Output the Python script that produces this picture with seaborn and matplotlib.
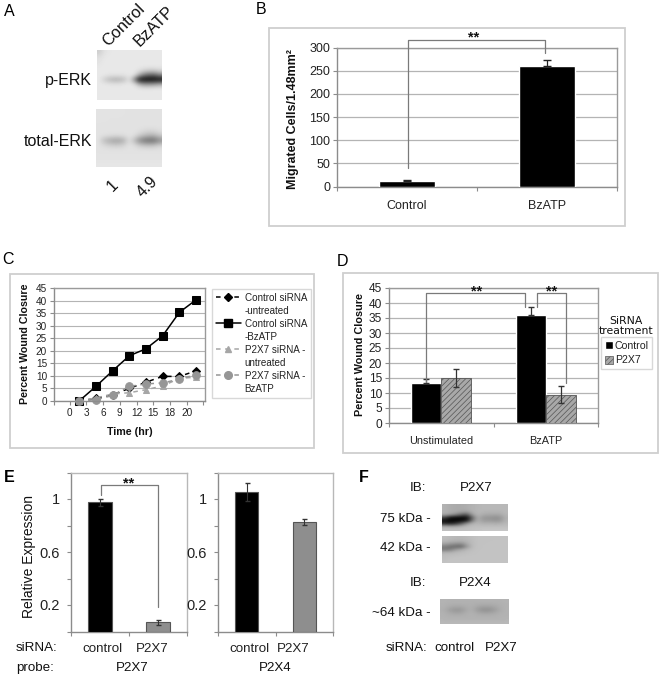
import numpy as np
import pandas as pd
import matplotlib
matplotlib.use("Agg")
import matplotlib.pyplot as plt
import seaborn as sns
from matplotlib.patches import Patch, Rectangle
from matplotlib.lines import Line2D

W, H = 661, 678

# panel B
b_cats = ["Control", "BzATP"]
b_vals = [11.5, 259]
b_errs = [2, 13.5]

# panel C
c_time = [1.7, 4.7, 7.7, 10.7, 13.7, 16.7, 19.7, 22.7]
c_ctrl_untreated = [0, 1, 2.5, 5, 7.5, 9.8, 9.8, 12]
c_ctrl_bzatp = [0, 5.8, 12, 18, 20.8, 26, 35.3, 40.3]
c_p2x7_untreated = [0, 1.2, 2.8, 3.3, 4.5, 6, 9, 9.5]
c_p2x7_bzatp = [0, 0.5, 2.2, 5.8, 6.8, 7.2, 8.7, 10.5]
c_tick_pos = [-2.82, 0, 3, 6, 9, 12, 15, 18, 21, 24]
c_tick_labels = ["", "0", "3", "6", "9", "12", "15", "18", "20", ""]

# panel D
d_cats = ["Unstimulated", "BzATP"]
d_control = [13.3, 36]
d_p2x7 = [15, 9.5]
d_control_err = [1.5, 2.6]
d_p2x7_err = [3, 2.7]

# panel E
e_cats = ["control", "P2X7"]
e1_vals = [0.975, 0.068]
e1_errs = [0.025, 0.02]
e2_vals = [1.053, 0.826]
e2_errs = [0.067, 0.02]

# blots, grey levels
blot_a1 = [
    [205, 226, 230, 232, 232, 232, 232, 232, 232, 232, 232, 232, 232],
    [222, 230, 232, 232, 232, 232, 232, 232, 232, 232, 232, 232, 232],
    [226, 232, 232, 232, 232, 232, 232, 232, 232, 232, 232, 232, 232],
    [230, 232, 232, 232, 232, 232, 232, 232, 232, 232, 232, 232, 232],
    [232, 232, 232, 232, 232, 232, 232, 232, 225, 212, 205, 205, 215],
    [232, 232, 228, 228, 228, 228, 232, 230, 170, 120, 100, 100, 130],
    [232, 205, 185, 175, 178, 192, 228, 130, 12, 6, 5, 6, 12],
    [232, 232, 230, 228, 228, 232, 232, 228, 175, 150, 150, 155, 170],
    [232, 232, 232, 232, 232, 232, 232, 232, 232, 230, 230, 232, 232],
    [232, 232, 232, 232, 232, 232, 232, 232, 232, 232, 232, 232, 232],
    [232, 232, 232, 232, 232, 232, 232, 232, 232, 232, 232, 232, 232],
]
blot_a2 = [
    [228, 228, 228, 228, 228, 226, 226, 226, 226, 226, 226, 226, 226],
    [228, 228, 226, 226, 226, 226, 226, 226, 226, 226, 226, 226, 226],
    [226, 226, 226, 226, 226, 226, 226, 226, 226, 226, 226, 226, 226],
    [226, 226, 226, 226, 226, 226, 226, 226, 226, 226, 226, 226, 226],
    [226, 226, 226, 226, 226, 226, 226, 226, 224, 218, 214, 216, 222],
    [226, 224, 222, 220, 220, 222, 226, 224, 205, 190, 180, 180, 200],
    [226, 190, 172, 160, 160, 175, 222, 190, 140, 115, 105, 108, 140],
    [226, 218, 210, 205, 205, 212, 226, 222, 205, 196, 192, 196, 210],
    [226, 226, 226, 226, 226, 226, 226, 226, 226, 226, 226, 226, 226],
    [226, 226, 226, 226, 226, 226, 226, 226, 226, 226, 226, 226, 226],
    [228, 228, 228, 228, 228, 228, 228, 228, 228, 228, 228, 228, 228],
    [230, 230, 230, 230, 230, 230, 230, 230, 230, 230, 230, 230, 230],
]
blot_f1 = [
    [178, 172, 170, 170, 172, 178, 182, 184, 184, 184, 184, 184],
    [178, 172, 170, 170, 174, 180, 182, 184, 184, 184, 184, 184],
    [178, 172, 170, 165, 160, 176, 184, 182, 180, 180, 180, 184],
    [172, 160, 140, 105, 85, 160, 182, 172, 168, 168, 168, 182],
    [70, 15, 8, 8, 10, 100, 178, 150, 150, 145, 145, 176],
    [15, 5, 5, 8, 20, 120, 178, 155, 155, 150, 150, 178],
    [45, 30, 50, 90, 150, 178, 184, 176, 178, 176, 176, 184],
    [176, 170, 170, 178, 186, 190, 190, 190, 190, 190, 190, 190],
    [192, 192, 192, 192, 192, 194, 196, 198, 198, 198, 198, 198],
]
blot_f2 = [
    [190, 186, 182, 182, 186, 190, 194, 194, 194, 194, 194, 194],
    [186, 182, 180, 180, 182, 188, 194, 194, 194, 194, 194, 194],
    [168, 156, 150, 145, 172, 188, 194, 194, 194, 196, 196, 196],
    [125, 112, 105, 100, 150, 188, 194, 194, 196, 196, 196, 196],
    [120, 125, 155, 170, 185, 190, 194, 194, 196, 196, 196, 196],
    [180, 180, 186, 188, 190, 194, 194, 196, 196, 196, 196, 196],
    [188, 190, 190, 192, 194, 194, 194, 196, 196, 196, 196, 196],
    [190, 194, 196, 196, 196, 196, 196, 196, 196, 196, 196, 196],
    [194, 196, 196, 196, 196, 196, 196, 196, 196, 196, 196, 196],
]
blot_f3 = [
    [180, 178, 178, 178, 178, 178, 178, 178, 178, 178, 178, 180],
    [178, 176, 176, 176, 176, 176, 174, 174, 174, 174, 176, 178],
    [178, 172, 166, 166, 172, 176, 166, 160, 160, 166, 174, 178],
    [176, 162, 150, 150, 166, 176, 156, 144, 144, 156, 172, 178],
    [178, 172, 164, 164, 174, 178, 170, 164, 164, 170, 176, 178],
    [178, 176, 176, 176, 176, 178, 176, 176, 176, 176, 178, 178],
    [180, 178, 178, 178, 178, 178, 178, 178, 178, 178, 178, 180],
    [184, 184, 184, 184, 184, 184, 184, 184, 184, 184, 184, 184],
]

FRAME = "#cfcfcf"
GRID = "#b4b4b4"
AXIS = "#8c8c8c"
BRACKET = "#7a7a7a"

sns.set_theme(style="white")
plt.rcParams["font.family"] = ["Liberation Sans", "DejaVu Sans"]
plt.rcParams["hatch.linewidth"] = 0.5

fig = plt.figure(figsize=(W / 100, H / 100), dpi=100)


def px_axes(x0, y0, x1, y1):
    return fig.add_axes([x0 / W, 1 - y1 / H, (x1 - x0) / W, (y1 - y0) / H])


def style_axes(ax, size, top="#9a9a9a"):
    for s in ["left", "bottom"]:
        ax.spines[s].set_color(AXIS)
        ax.spines[s].set_linewidth(1)
    for s in ["top", "right"]:
        ax.spines[s].set_color(top)
        ax.spines[s].set_linewidth(1)
    ax.tick_params(axis="both", which="both", left=True, bottom=True, color=AXIS,
                   length=3, width=0.8, labelsize=size, labelcolor="#222222", pad=2)
    ax.set_xlabel("")
    ax.set_ylabel("")


def category_ticks(ax, n, pad):
    ax.set_xlim(-0.5, n - 0.5)
    ax.set_xticks(np.arange(-0.5, n), minor=True)
    ax.tick_params(axis="x", which="major", length=0, pad=pad)


def blot(grid, x0, y0, x1, y1):
    ax = px_axes(x0, y0, x1, y1)
    ax.imshow(np.array(grid), cmap="gray", vmin=0, vmax=255, aspect="auto", interpolation="bicubic")
    ax.axis("off")


# overlay in pixel coordinates for the loose labels, frames and brackets
ov = fig.add_axes([0, 0, 1, 1], zorder=10)
ov.set_xlim(0, W)
ov.set_ylim(H, 0)
ov.axis("off")
ov.patch.set_alpha(0)


def label(x, y, s, size=9.6, ha="center", **kw):
    ov.text(x, y, s, fontsize=size, ha=ha, va="center", color=kw.pop("color", "#111111"), **kw)


def bracket(xs, ys):
    ov.add_line(Line2D(xs, ys, color=BRACKET, lw=0.9))


def frame(x0, y0, x1, y1):
    ov.add_patch(Rectangle((x0, y0), x1 - x0, y1 - y0, fill=False, ec=FRAME, lw=1.3))


for x, y, s, w in [(9, 11, "A", "normal"), (261, 9, "B", "normal"), (8, 260, "C", "normal"),
                   (343, 261, "D", "normal"), (9, 477, "E", "bold"), (364, 478, "F", "bold")]:
    label(x, y, s, size=11.5, weight=w, color="black")

# panel A
blot(blot_a1, 97, 50, 162, 100)
blot(blot_a2, 96, 109, 162, 167)
ov.text(110, 49, "Control", fontsize=11.8, rotation=45, ha="left", va="bottom", rotation_mode="anchor", color="#111111")
ov.text(142, 49, "BzATP", fontsize=11.8, rotation=45, ha="left", va="bottom", rotation_mode="anchor", color="#111111")
label(92, 80, "p-ERK", size=11.5, ha="right")
label(92, 141, "total-ERK", size=11.5, ha="right")
label(113, 186, "1", size=11.5, rotation=45)
label(147, 187, "4.9", size=11.5, rotation=45)

# panel B
frame(269, 28, 625, 226)
ax = px_axes(337, 47.5, 617, 186.5)
sns.barplot(x=b_cats, y=b_vals, color="black", saturation=1, width=0.405, ax=ax, zorder=3)
ax.errorbar(range(2), b_vals, yerr=[[0, 0], b_errs], fmt="none", ecolor="#222222", elinewidth=0.9, capsize=3, zorder=4)
ax.set_ylim(0, 300)
ax.set_yticks(range(0, 301, 50))
ax.yaxis.grid(True, color=GRID, lw=0.9)
ax.set_axisbelow(True)
style_axes(ax, 9)
category_ticks(ax, 2, 10)
label(293, 119, "Migrated Cells/1.48mm²", size=9, weight="bold", rotation=90)
bracket([408, 408, 545, 545], [168, 40, 40, 53])
label(474, 37, "**", size=10.5, weight="bold")

# panel C
frame(10, 274, 314, 448)
ax = px_axes(54, 288, 205, 401)
series = [
    (c_ctrl_untreated, "Control siRNA", "-untreated", "black", "D", (0, (3, 3)), 4.5),
    (c_ctrl_bzatp, "Control siRNA", "-BzATP", "black", "s", "-", 5.5),
    (c_p2x7_untreated, "P2X7 siRNA -", "untreated", "#a6a6a6", "^", (0, (3, 3)), 5),
    (c_p2x7_bzatp, "P2X7 siRNA -", "BzATP", "#969696", "o", (0, (3, 3)), 5.5),
]
leg_handles, leg_labels = [], []
for vals, line1, line2, col, mk, ls, ms in series:
    sns.lineplot(x=c_time, y=vals, color=col, marker=mk, linestyle=ls, markersize=ms, lw=1.1,
                 markeredgecolor=col, errorbar=None, ax=ax, clip_on=False)
    leg_handles += [Line2D([], [], color=col, marker=mk, linestyle=ls, markersize=ms, lw=1.1),
                    Line2D([], [], linestyle="none")]
    leg_labels += [line1, line2]
ax.set_xlim(-2.82, 24.3)
ax.set_ylim(0, 45)
ax.set_yticks(range(0, 46, 5))
ax.set_xticks(c_tick_pos)
ax.set_xticklabels(c_tick_labels)
ax.yaxis.grid(True, color=GRID, lw=0.8)
ax.set_axisbelow(True)
style_axes(ax, 7.2)
leg = ax.legend(leg_handles, leg_labels, loc="upper left", bbox_to_anchor=(212 / W, 1 - 289 / H),
                bbox_transform=fig.transFigure, fontsize=7.1, frameon=True, fancybox=False, edgecolor=FRAME,
                borderaxespad=0, borderpad=0.4, handlelength=2.5, handletextpad=0.4, labelspacing=0.3,
                labelcolor="#222222")
leg.get_frame().set_linewidth(1)
label(25, 344, "Percent Wound Closure", size=7.7, weight="bold", rotation=90)
label(130, 432, "Time (hr)", size=7.7, weight="bold")

# panel D
frame(343, 273, 658, 453)
ax = px_axes(389, 288, 598, 423)
d_df = pd.DataFrame({
    "cat": d_cats * 2,
    "val": d_control + d_p2x7,
    "group": ["Control"] * 2 + ["P2X7"] * 2,
})
sns.barplot(data=d_df, x="cat", y="val", hue="group", palette=["black", "#a8a8a8"], saturation=1,
            width=0.57, gap=0, legend=False, ax=ax, zorder=3)
for cont, errs, lower in zip(ax.containers, [d_control_err, d_p2x7_err], [False, True]):
    for bar, e in zip(cont, errs):
        cx = bar.get_x() + bar.get_width() / 2
        if lower:
            bar.set_hatch("//////")
            bar.set_edgecolor("#555555")
            bar.set_linewidth(0.6)
        low = e if lower else 0
        ax.errorbar(cx, bar.get_height(), yerr=[[low], [e]], fmt="none", ecolor="#333333",
                    elinewidth=0.9, capsize=2.5, zorder=4)
ax.set_ylim(0, 45)
ax.set_yticks(range(0, 46, 5))
ax.yaxis.grid(True, color=GRID, lw=0.9)
ax.set_axisbelow(True)
style_axes(ax, 8.6)
category_ticks(ax, 2, 9)
ax.tick_params(axis="x", labelsize=7.8)
handles = [Patch(fc="black", label="Control"), Patch(fc="#a8a8a8", ec="#555555", hatch="//////", lw=0.5, label="P2X7")]
leg = ax.legend(handles=handles, loc="upper left", bbox_to_anchor=(601 / W, 1 - 337 / H), bbox_transform=fig.transFigure,
                fontsize=7.6, frameon=True, fancybox=False, edgecolor=FRAME, borderaxespad=0, borderpad=0.35,
                handlelength=0.75, handleheight=0.75, handletextpad=0.2, labelspacing=0.45, labelcolor="#222222")
leg.get_frame().set_linewidth(1)
label(360, 355, "Percent Wound Closure", size=7.8, weight="bold", rotation=90)
label(626, 321, "SiRNA", size=7.8, family="DejaVu Sans")
label(626, 330.5, "treatment", size=7.8, family="DejaVu Sans")
bracket([426, 426, 525, 525], [382, 293, 293, 307])
bracket([537, 537, 566, 566], [307, 293, 293, 383])
label(477, 291, "**", size=10.5, weight="bold")
label(552, 291, "**", size=10.5, weight="bold")

# panel E
for box, vals, errs, tick_pos, probe, cx in [((71, 472.5, 187, 631.5), e1_vals, e1_errs, [0.05, 0.9], "P2X7", 132),
                                             ((218, 472.5, 333, 631.5), e2_vals, e2_errs, [0.04, 0.8], "P2X4", 275)]:
    ax = px_axes(*box)
    sns.barplot(x=e_cats, y=vals, palette=["black", "#8e8e8e"], hue=e_cats, legend=False, saturation=1,
                width=0.4, edgecolor="#555555", linewidth=0.8, ax=ax, zorder=3)
    ax.errorbar(range(2), vals, yerr=errs, fmt="none", ecolor="#333333", elinewidth=0.8, capsize=1.8, zorder=4)
    ax.set_ylim(0, 1.2)
    ax.set_yticks([1, 0.6, 0.2])
    ax.set_yticklabels(["1", "0.6", "0.2"])
    ax.set_yticks([0, 0.4, 0.8, 1.2], minor=True)
    style_axes(ax, 10.5, top="#b8b8b8")
    ax.tick_params(axis="y", pad=5)
    category_ticks(ax, 2, 8)
    ax.set_xticks(tick_pos)
    ax.set_xticklabels(e_cats)
    ax.tick_params(axis="x", labelsize=9.6)
    label(cx, 668, probe)
label(29, 557, "Relative Expression", size=10, rotation=90)
label(16, 648, "siRNA:", ha="left")
label(16, 668, "probe:", ha="left")
bracket([100.7, 100.7, 158, 158], [495, 485, 485, 607])
label(129, 483, "**", size=10.5, weight="bold")

# panel F
blot(blot_f1, 442, 504, 508, 531)
blot(blot_f2, 442, 536, 508, 563)
blot(blot_f3, 440, 599, 508, 624)
label(418, 488, "IB:")
label(476, 488, "P2X7")
label(431, 519, "75 kDa -", ha="right")
label(431, 548, "42 kDa -", ha="right")
label(418, 583, "IB:")
label(475, 583, "P2X4")
label(431, 613, "~64 kDa -", ha="right")
label(407, 648, "siRNA:")
label(454, 648, "control")
label(501, 648, "P2X7")

fig.savefig("out.png", dpi=100)
